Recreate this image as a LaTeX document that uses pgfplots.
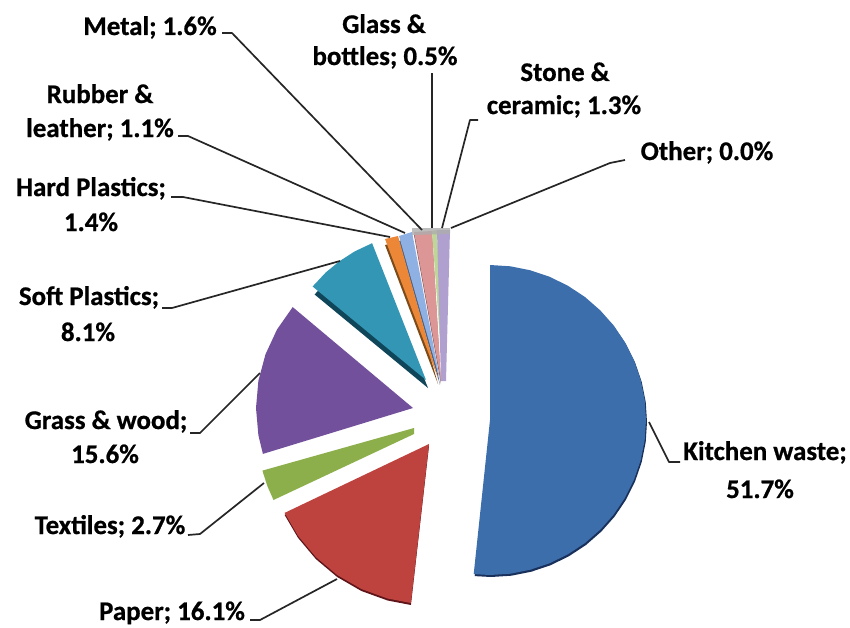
\documentclass[border=0pt]{standalone}
\usepackage{fontspec}
\setmainfont{Carlito}[BoldFeatures={FakeBold=0.7}]
\usepackage{pgfplots}
\usepackage{pgfplotstable}
\pgfplotsset{compat=1.18}
\definecolor{kit}{RGB}{61,110,172}\definecolor{kitd}{RGB}{25,48,90}
\definecolor{pap}{RGB}{190,66,62}\definecolor{papd}{RGB}{95,20,25}
\definecolor{tex}{RGB}{140,175,75}\definecolor{texd}{RGB}{100,135,50}
\definecolor{gra}{RGB}{115,80,155}\definecolor{grad}{RGB}{85,55,120}
\definecolor{sof}{RGB}{50,150,180}\definecolor{sofd}{RGB}{15,70,90}
\definecolor{har}{RGB}{235,135,55}\definecolor{hard}{RGB}{125,75,25}
\definecolor{rub}{RGB}{142,176,226}\definecolor{rubd}{RGB}{70,95,135}
\definecolor{met}{RGB}{220,150,150}\definecolor{metd}{RGB}{130,85,85}
\definecolor{gla}{RGB}{190,215,150}
\definecolor{sto}{RGB}{175,160,208}
\pgfplotstableread{
x y
490 420
490 265
510.4 266.3
530.4 270.3
549.7 276.8
568 285.8
585 297
600.3 310.4
613.8 325.6
625.1 342.5
634.1 360.7
640.7 379.9
644.7 399.8
646 420
644.7 440.2
640.7 460.1
634.1 479.3
625.1 497.5
613.8 514.4
600.3 529.6
585 543
568 554.2
549.7 563.2
530.4 569.7
510.4 573.7
490 575
473.7 574.1
}\kitchen
\pgfplotstableread{
x y
429 444
410.9 603
387.6 598.5
361.4 589
337.2 575
315.9 557.1
298 535.8
284.6 512.9
}\paper
\pgfplotstableread{
x y
414 428
414 434
273.5 500
267.4 486.2
262.4 470.6
}\textiles
\pgfplotstableread{
x y
413 408
262.9 453.9
258.4 435.3
256 408
258.4 380.7
265.5 354.3
277 329.5
292.7 307.1
}\grass
\pgfplotstableread{
x y
426 380
312.6 286.5
325.7 272.5
339.6 261.1
354.7 251.4
372.1 243.2
}\soft
\pgfplotstableread{
x y
385 239
398 236
438 378
}\hardp
\pgfplotstableread{
x y
399 236
412 232
440 380
}\rubber
\pgfplotstableread{
x y
414 232
432 231
441 381
}\metal
\pgfplotstableread{
x y
432 231
437 230
443 381
}\glass
\pgfplotstableread{
x y
437 230
450 230
446 381
441 381
}\stone
\pgfplotstableread{
x y
412 228
450 228
450 234
412 235
}\cap
\newcommand\lab[3]{\node[anchor=base,font=\fontsize{27}{29}\selectfont\bfseries,text=black] at (axis cs:#1,#2) {#3};}
\begin{document}
\begin{tikzpicture}
\useasboundingbox (0,0) rectangle (850bp,628bp);
\begin{axis}[at={(0,0)},anchor=south west,scale only axis,width=850bp,height=628bp,
  xmin=0,xmax=850,ymin=0,ymax=628,y dir=reverse,hide axis,clip=false,no markers,
  ldr/.style={black!85,solid,line width=1.7bp},
  every axis plot/.append style={line join=round}]
% depth
\addplot[fill=kitd,draw=none] table[x expr=\thisrow{x}+1,y expr=\thisrow{y}+2] {\kitchen};
\addplot[fill=papd,draw=none] table[x expr=\thisrow{x},y expr=\thisrow{y}+2] {\paper};
\addplot[fill=sofd,draw=none] table[x expr=\thisrow{x}+2,y expr=\thisrow{y}+8] {\soft};
\addplot[fill=hard,draw=none] table[x expr=\thisrow{x},y expr=\thisrow{y}+6] {\hardp};
\addplot[fill=rubd,draw=none] table[x expr=\thisrow{x},y expr=\thisrow{y}+5] {\rubber};
\addplot[fill=metd,draw=none] table[x expr=\thisrow{x},y expr=\thisrow{y}+3] {\metal};
% faces
\addplot[fill=kit,draw=none] table {\kitchen};
\addplot[fill=pap,draw=none] table {\paper};
\addplot[fill=tex,draw=none] table {\textiles};
\addplot[fill=gra,draw=none] table {\grass};
\addplot[fill=sof,draw=none] table {\soft};
\addplot[fill=har,draw=none] table {\hardp};
\addplot[fill=rub,draw=none] table {\rubber};
\addplot[fill=met,draw=none] table {\metal};
\addplot[fill=gla,draw=none] table {\glass};
\addplot[fill=sto,draw=none] table {\stone};
\addplot[fill=black!32,draw=none,opacity=.8] table {\cap};
% leaders
\addplot[ldr] coordinates {(222,33)(232,33)(422,230)};
\addplot[ldr] coordinates {(178,136)(188,136)(405,233)};
\addplot[ldr] coordinates {(171,197)(183,197)(390,237)};
\addplot[ldr] coordinates {(432,73)(432,228)};
\addplot[ldr] coordinates {(478,120)(470,120)(442,228)};
\addplot[ldr] coordinates {(625,160)(610,163)(451,228)};
\addplot[ldr] coordinates {(162,308)(172,308)(340,261)};
\addplot[ldr] coordinates {(190,433)(200,433)(260,373)};
\addplot[ldr] coordinates {(188,535)(200,534)(264,483)};
\addplot[ldr] coordinates {(250,620)(260,620)(337,579)};
\addplot[ldr] coordinates {(649,422)(669,462)(680,462)};
% labels
\lab{150}{35}{Metal; 1.6\%}
\lab{384}{33}{Glass \&}
\lab{385}{65}{bottles; 0.5\%}
\lab{565}{81}{Stone \&}
\lab{564}{114}{ceramic; 1.3\%}
\lab{707}{160}{Other; 0.0\%}
\lab{100}{103}{Rubber \&}
\lab{100}{137}{leather; 1.1\%}
\lab{91}{196}{Hard Plastics;}
\lab{91}{231}{1.4\%}
\lab{89}{305}{Soft Plastics;}
\lab{88}{341}{8.1\%}
\lab{106}{429}{Grass \& wood;}
\lab{105}{463}{15.6\%}
\lab{110}{534}{Textiles; 2.7\%}
\lab{172}{620}{Paper; 16.1\%}
\lab{765}{460}{Kitchen waste;}
\lab{760}{498}{51.7\%}
\end{axis}
\end{tikzpicture}
\end{document}
